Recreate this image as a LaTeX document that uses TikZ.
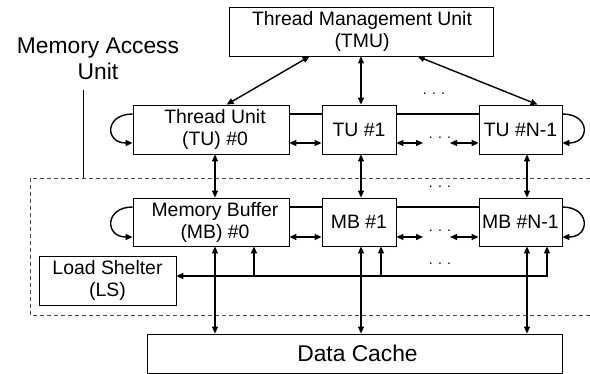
\documentclass[tikz,border=0pt]{standalone}
\usepackage{fontspec}
\setmainfont{Liberation Sans}
\usetikzlibrary{arrows.meta,calc}
\newcommand\boxfont{\fontsize{19.4}{22}\selectfont}
\newcommand\bigfont{\fontsize{22.8}{26}\selectfont}
\begin{document}
\begin{tikzpicture}[x=1pt,y=-1pt,
  >={Triangle[length=7pt,width=6pt]},
  box/.style={draw, line width=0.8pt, inner sep=0pt, align=center, font=\boxfont},
  conn/.style={line width=1.4pt},
  dots/.style={font=\fontsize{14}{14}\selectfont, inner sep=0pt},
  mau/.style={draw=black!70, line width=0.8pt, dash pattern=on 4pt off 3pt}
]
\useasboundingbox (0,0) rectangle (590,374);

% dashed memory access unit region
\draw[mau] (590,178) -- (30,178) -- (30,315) -- (590,315);

% nodes
\node[box, minimum width=264pt, minimum height=49pt] (tmu) at (361,31.5) {\hspace*{2pt}Thread Management Unit\\\hspace*{2pt}(TMU)};
\node[box, minimum width=156pt, minimum height=49pt] (tu0) at (211,129.5) {\hspace*{8pt}Thread Unit\\\hspace*{8pt}(TU) \#0};
\node[box, minimum width=74pt, minimum height=49pt] (tu1) at (359,129.5) {TU \#1};
\node[box, minimum width=83pt, minimum height=49pt] (tun) at (520.5,129.5) {TU \#N-1};
\node[box, minimum width=156pt, minimum height=48pt] (mb0) at (211,222) {\hspace*{8pt}Memory Buffer\\\hspace*{8pt}(MB) \#0};
\node[box, minimum width=74pt, minimum height=48pt] (mb1) at (359,222) {MB \#1};
\node[box, minimum width=83pt, minimum height=48pt] (mbn) at (520.5,222) {MB \#N-1};
\node[box, minimum width=137pt, minimum height=49pt] (ls) at (107.5,280.5) {Load Shelter\\(LS)};
\node[box, minimum width=415pt, minimum height=39pt, font=\bigfont] (dc) at (354.5,353.5) {\hspace*{6pt}Data Cache};

\node[font=\bigfont, align=center, inner sep=0pt] (lbl) at (98,59) {Memory Access\\Unit};
\coordinate (p1) at (83,90);
\coordinate (p2) at (83,178);
\draw[line width=1pt] (p1) -- (p2);

% helper coordinates
\coordinate (xa) at (215,0);
\coordinate (xb) at (361,0);
\coordinate (xc) at (527,0);
\coordinate (ytu) at (0,114);
\coordinate (ytub) at (0,143);
\coordinate (ymb) at (0,207);
\coordinate (ymbb) at (0,237);

% TMU to TUs
\draw[conn,<->] ([xshift=81pt]tmu.south west) -- ([xshift=94pt]tu0.north west);
\draw[conn,<->] (xb |- tmu.south) -- (xb |- tu1.north);
\draw[conn,<->] ([xshift=189pt]tmu.south west) -- ([xshift=59pt]tun.north west);

% TU ring
\draw[conn] (tu0.east |- ytu) -- (tu1.west |- ytu);
\draw[conn] (tu1.east |- ytu) -- (tun.west |- ytu);
\draw[conn,<->] (tu0.east |- ytub) -- (tu1.west |- ytub);
\coordinate (ta) at (423,143);
\coordinate (tb) at (450,143);
\draw[conn,<->] (tu1.east |- ytub) -- (ta);
\draw[conn,<->] (tb) -- (tun.west |- ytub);
\draw[conn,->] (tu0.west |- ytu) .. controls +(-28,0) and +(-28,0) .. (tu0.west |- ytub);
\draw[conn,->] (tun.east |- ytu) .. controls +(28,0) and +(28,0) .. (tun.east |- ytub);

% TU to MB
\draw[conn,<->] (xa |- tu0.south) -- (xa |- mb0.north);
\draw[conn,<->] (xb |- tu1.south) -- (xb |- mb1.north);
\draw[conn,<->] (xc |- tun.south) -- (xc |- mbn.north);

% MB ring
\draw[conn] (mb0.east |- ymb) -- (mb1.west |- ymb);
\draw[conn] (mb1.east |- ymb) -- (mbn.west |- ymb);
\draw[conn,<->] (mb0.east |- ymbb) -- (mb1.west |- ymbb);
\coordinate (ma) at (423,237);
\coordinate (mbb) at (450,237);
\draw[conn,<->] (mb1.east |- ymbb) -- (ma);
\draw[conn,<->] (mbb) -- (mbn.west |- ymbb);
\draw[conn,->] (mb0.west |- ymb) .. controls +(-28,0) and +(-28,0) .. (mb0.west |- ymbb);
\draw[conn,->] (mbn.east |- ymb) .. controls +(28,0) and +(28,0) .. (mbn.east |- ymbb);

% MB to data cache
\draw[conn,<->] (xa |- mb0.south) -- (xa |- dc.north);
\draw[conn,<->] (xb |- mb1.south) -- (xb |- dc.north);
\draw[conn,<->] (xc |- mbn.south) -- (xc |- dc.north);

% bus to load shelter
\coordinate (busR) at (547,276);
\coordinate (b0) at (254,276);
\coordinate (b1) at (381,276);
\draw[conn,<->] (ls.east |- busR) -- (busR) -- (busR |- mbn.south);
\draw[conn,->] (b0) -- (b0 |- mb0.south);
\draw[conn,->] (b1) -- (b1 |- mb1.south);

% dots
\node[dots] (d1) at (434,94) {. . .};
\node[dots] (d2) at (440,138) {. . .};
\node[dots] (d3) at (440,187) {. . .};
\node[dots] (d4) at (440,231) {. . .};
\node[dots] (d5) at (440,264) {. . .};
\end{tikzpicture}
\end{document}
